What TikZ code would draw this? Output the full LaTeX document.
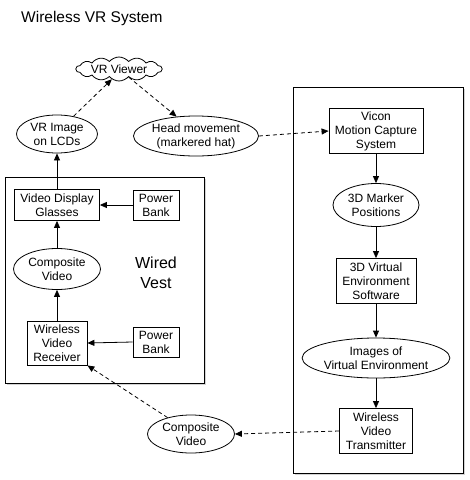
\documentclass[tikz,border=0pt]{standalone}
\usepackage{fontspec}
\setmainfont{Liberation Sans}
\usetikzlibrary{shapes.geometric,shapes.symbols,arrows.meta,shadows}
\begin{document}
\begin{tikzpicture}[x=1pt,y=-1pt,
  every node/.style={font=\fontsize{12}{14}\selectfont, align=center, inner sep=0pt},
  boxnode/.style={draw, line width=0.8pt, fill=white, rectangle},
  ellnode/.style={draw, line width=0.8pt, fill=white, ellipse},
  bigbox/.style={draw, line width=0.8pt, fill=white, drop shadow={shadow xshift=1.5pt, shadow yshift=-1.5pt, opacity=0.35}},
  arr/.style={-{Triangle[length=7pt,width=6pt]}, line width=0.8pt},
  darr/.style={-{Triangle[length=7pt,width=6pt]}, line width=0.8pt, dash pattern=on 4pt off 3pt}
]
\useasboundingbox (0,0) rectangle (470,480);
% title
\node[anchor=west, font=\fontsize{15.5}{18}\selectfont] (title) at (21,18) {Wireless VR System};
% containers
\node[bigbox, minimum width=199pt, minimum height=206pt] (vest) at (104.5,280) {};
\node[bigbox, minimum width=170pt, minimum height=386pt] (pc) at (378,280) {};
\node[font=\fontsize{16}{20}\selectfont] (vestlbl) at (156,273) {Wired\\Vest};
% top
\node[draw, cloud, cloud puffs=14, cloud puff arc=100, cloud ignores aspect, minimum width=86pt, minimum height=24pt, line width=0.8pt, fill=white] (viewer) at (119,69) {VR Viewer};
\node[ellnode, minimum width=81pt, minimum height=38pt] (lcd) at (57,134) {VR Image\\on LCDs};
\node[ellnode, minimum width=125pt, minimum height=40pt] (head) at (196,136) {Head movement\\(markered hat)};
% vest contents
\node[boxnode, minimum width=85pt, minimum height=31pt] (glasses) at (57,205) {Video Display\\Glasses};
\node[boxnode, minimum width=46pt, minimum height=30pt] (pb1) at (156,205) {Power\\Bank};
\node[ellnode, minimum width=87pt, minimum height=41pt] (cv1) at (57,269) {Composite\\Video};
\node[boxnode, minimum width=60pt, minimum height=44pt] (recv) at (57,343) {Wireless\\Video\\Receiver};
\node[boxnode, minimum width=46pt, minimum height=30pt] (pb2) at (156,342) {Power\\Bank};
% right column
\node[boxnode, minimum width=94pt, minimum height=45pt] (vicon) at (376,131) {Vicon\\Motion Capture\\System};
\node[ellnode, minimum width=86pt, minimum height=43pt] (marker) at (376,205) {3D Marker\\Positions};
\node[boxnode, minimum width=80pt, minimum height=45pt] (vesw) at (376,281) {3D Virtual\\Environment\\Software};
\node[ellnode, minimum width=146pt, minimum height=40pt] (imgs) at (376,358) {Images of\\Virtual Environment};
\node[boxnode, minimum width=73pt, minimum height=45pt] (trans) at (376,431) {Wireless\\Video\\Transmitter};
\node[ellnode, minimum width=87pt, minimum height=38pt] (cv2) at (191,434) {Composite\\Video};
% connectors
\draw[darr] (lcd.47) -- (viewer.235);
\draw[darr] (viewer.-40) -- (head.135);
\draw[darr] (head.east) -- (vicon.west);
\draw[arr] (glasses.north) -- (lcd.south);
\draw[arr] (cv1.north) -- (glasses.south);
\draw[arr] (recv.north) -- (cv1.south);
\draw[arr] (pb1.west) -- (glasses.east);
\draw[arr] (pb2.west) -- (recv.east);
\draw[arr] (vicon.south) -- (marker.north);
\draw[arr] (marker.south) -- (vesw.north);
\draw[arr] (vesw.south) -- (imgs.north);
\draw[arr] (imgs.south) -- (trans.north);
\draw[darr] (trans.west) -- (cv2.east);
\draw[darr] (cv2.145) -- (recv.south east);
\end{tikzpicture}
\end{document}
